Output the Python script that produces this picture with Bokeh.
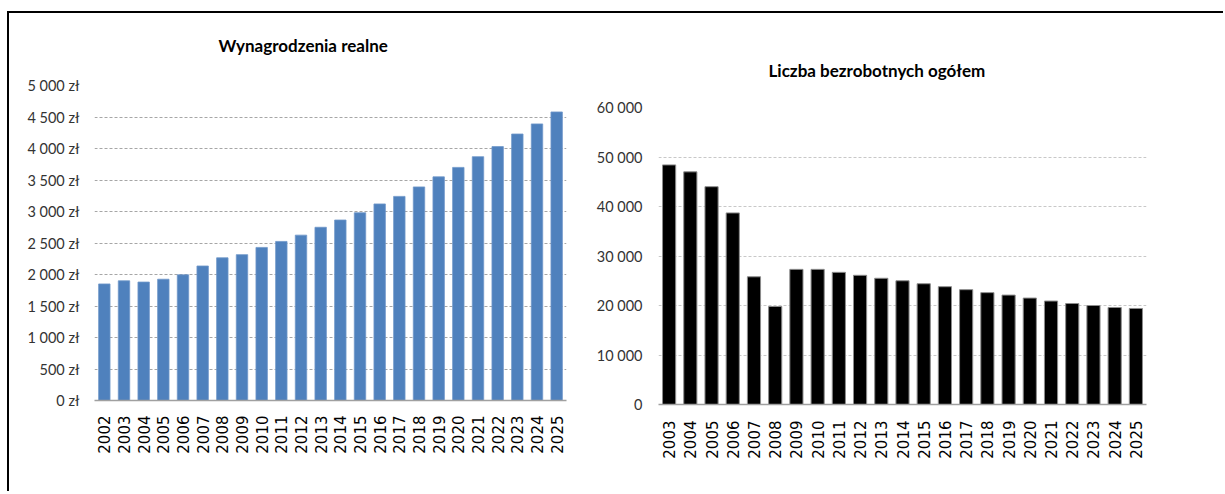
import math
from bokeh.plotting import figure
from bokeh.models import FixedTicker, FactorRange, Range1d, Div
from bokeh.embed import file_html
from bokeh.resources import INLINE

# ---- data ----
years_wages = ["2002", "2003", "2004", "2005", "2006", "2007", "2008", "2009",
               "2010", "2011", "2012", "2013", "2014", "2015", "2016", "2017",
               "2018", "2019", "2020", "2021", "2022", "2023", "2024", "2025"]
wages = [1850, 1900, 1880, 1925, 1995, 2135, 2265, 2315, 2430, 2525, 2625, 2750,
         2865, 2980, 3120, 3240, 3390, 3550, 3700, 3870, 4030, 4230, 4390, 4580]

years_unemp = ["2003", "2004", "2005", "2006", "2007", "2008", "2009", "2010",
               "2011", "2012", "2013", "2014", "2015", "2016", "2017", "2018",
               "2019", "2020", "2021", "2022", "2023", "2024", "2025"]
unemployed = [48400, 47000, 44000, 38700, 25800, 19800, 27300, 27300, 26700,
              26100, 25500, 25000, 24400, 23800, 23200, 22600, 22100, 21500,
              20900, 20400, 20000, 19600, 19400]

wage_ticks = [0, 500, 1000, 1500, 2000, 2500, 3000, 3500, 4000, 4500, 5000]
wage_tick_labels = ["0 zł", "500 zł", "1 000 zł", "1 500 zł", "2 000 zł", "2 500 zł",
                    "3 000 zł", "3 500 zł", "4 000 zł", "4 500 zł", "5 000 zł"]
unemp_ticks = [0, 10000, 20000, 30000, 40000, 50000, 60000]
unemp_tick_labels = ["0", "10 000", "20 000", "30 000", "40 000", "50 000", "60 000"]

title_wages = "Wynagrodzenia realne"
title_unemp = "Liczba bezrobotnych ogółem"

LABEL_FONT = "Lato"


def style(p, ticks, labels, grid_color, y_standoff, x_standoff):
    p.outline_line_color = None
    p.xgrid.visible = False
    p.ygrid.grid_line_color = grid_color
    p.ygrid.grid_line_dash = "3 2"
    p.ygrid.grid_line_width = 1
    p.yaxis.ticker = FixedTicker(ticks=ticks)
    p.yaxis.major_label_overrides = {t: l for t, l in zip(ticks, labels)}
    p.yaxis.axis_line_color = None
    p.yaxis.major_tick_line_color = None
    p.yaxis.minor_tick_line_color = None
    p.yaxis.major_label_text_font = LABEL_FONT
    p.yaxis.major_label_text_font_size = "14.5px"
    p.yaxis.major_label_text_color = "#333333"
    p.yaxis.major_label_standoff = y_standoff
    p.xaxis.axis_line_color = "#a0a0a0"
    p.xaxis.axis_line_width = 1.5
    p.xaxis.major_tick_line_color = None
    p.xaxis.minor_tick_line_color = None
    p.xaxis.major_label_orientation = math.pi / 2
    p.xaxis.major_label_text_font = "DejaVu Sans"
    p.xaxis.major_label_text_font_size = "15px"
    p.xaxis.major_label_text_color = "#000000"
    p.xaxis.major_label_standoff = x_standoff
    p.title.text_font = LABEL_FONT
    p.title.text_font_style = "bold"
    p.title.text_font_size = "17px"
    p.title.text_color = "#000000"
    p.title.align = "left"


p1 = figure(x_range=FactorRange(factors=years_wages), y_range=Range1d(0, 5000),
            frame_width=472, frame_height=315,
            min_border_left=84, min_border_right=24, min_border_top=85, min_border_bottom=83,
            output_backend="svg", toolbar_location=None, title=title_wages,
            styles={"position": "absolute", "left": "10px", "top": "0px"})
p1.vbar(x=years_wages, top=wages, width=0.58, fill_color="#4F81BD",
        line_color="#6f97c9", line_width=0.8)
style(p1, wage_ticks, wage_tick_labels, "#a6a6a6", 9, 9)
p1.title.offset = 124
p1.title.standoff = 60

p2 = figure(x_range=FactorRange(factors=years_unemp), y_range=Range1d(0, 60000),
            frame_width=488, frame_height=297,
            min_border_left=68, min_border_right=71, min_border_top=80, min_border_bottom=79,
            output_backend="svg", toolbar_location=None, title=title_unemp,
            styles={"position": "absolute", "left": "590px", "top": "27px"})
p2.vbar(x=years_unemp, top=unemployed, width=0.62, fill_color="#000000",
        line_color="#8c8c8c", line_width=1)
style(p2, unemp_ticks, unemp_tick_labels, "#c8c8c8", 10, 10)
p2.title.offset = 110
p2.title.standoff = 54

frame_html = ('<div style="width:1216px;height:480px;box-sizing:border-box;'
              'border-left:2px solid #000;border-top:2px solid #000;'
              'border-right:none;border-bottom:none;margin:0;padding:0;"></div>')
frame_box = Div(text=frame_html, width=1216, height=480, margin=0,
                styles={"position": "absolute", "left": "7px", "top": "11px",
                        "z-index": "10", "pointer-events": "none",
                        "background": "transparent", "overflow": "hidden"})

open("out.html", "w").write(file_html([p1, p2, frame_box], INLINE))
